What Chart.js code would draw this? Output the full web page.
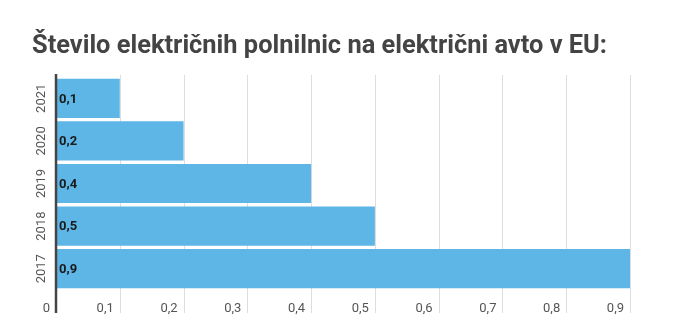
<!DOCTYPE html>
<html>
<head>
<meta charset="utf-8">
<script src="https://cdn.jsdelivr.net/npm/chart.js@4.4.1/dist/chart.umd.min.js"></script>
<style>
    html, body { margin: 0; padding: 0; background: #fff; }
    #wrap { width: 700px; height: 329px; position: relative; }
</style>
</head>
<body>
<div id="wrap"><canvas id="barChart"></canvas></div>
<script>
// Chargers per electric car in the EU, by year
const chartTitle = 'Število električnih polnilnic na električni avto v EU:';
const years = ['2021', '2020', '2019', '2018', '2017'];
const chargersPerCar = [0.1, 0.2, 0.4, 0.5, 0.9];
const axisMax = 0.9;
const axisStep = 0.1;

const fmt = v => String(Math.round(v * 10) / 10).replace('.', ',');

// Heading, squeezed a little so it keeps a condensed width
const titlePlugin = {
    id: 'titleText',
    afterDraw(chart) {
        const ctx = chart.ctx;
        ctx.save();
        ctx.font = 'bold 26px Roboto';
        ctx.fillStyle = '#444444';
        ctx.textBaseline = 'alphabetic';
        ctx.textAlign = 'left';
        ctx.fillText(chartTitle, 32, 53, 575);
        ctx.restore();
    }
};

// Grid ticks hanging below the plot, and the dark zero line
const axisLinePlugin = {
    id: 'axisLine',
    beforeDatasetsDraw(chart) {
        const ctx = chart.ctx;
        const xs = chart.scales.x;
        const area = chart.chartArea;
        ctx.save();
        ctx.strokeStyle = '#dddddd';
        ctx.lineWidth = 1;
        xs.ticks.forEach(t => {
            const x = Math.round(xs.getPixelForValue(t.value)) + 0.5;
            ctx.beginPath();
            ctx.moveTo(x, area.top - 2);
            ctx.lineTo(x, area.bottom + 23);
            ctx.stroke();
        });
        ctx.restore();
    },
    afterDatasetsDraw(chart) {
        const ctx = chart.ctx;
        const x = chart.scales.x.getPixelForValue(0);
        const area = chart.chartArea;
        ctx.save();
        ctx.strokeStyle = '#444444';
        ctx.lineWidth = 2.5;
        ctx.beginPath();
        ctx.moveTo(x, area.top - 3);
        ctx.lineTo(x, area.bottom + 23);
        ctx.stroke();
        ctx.restore();
    }
};

// Value labels inside each bar, near its start
const valueLabelPlugin = {
    id: 'valueLabels',
    afterDatasetsDraw(chart) {
        const ctx = chart.ctx;
        const meta = chart.getDatasetMeta(0);
        const x0 = chart.scales.x.getPixelForValue(0);
        ctx.save();
        ctx.font = 'bold 13px Roboto';
        ctx.fillStyle = '#1a1a1a';
        ctx.textAlign = 'left';
        ctx.textBaseline = 'middle';
        meta.data.forEach((bar, i) => {
            ctx.fillText(fmt(chargersPerCar[i]), x0 + 3, bar.y + 1);
        });
        ctx.restore();
    }
};

function createBarChart() {
    const ctx = document.getElementById('barChart').getContext('2d');
    new Chart(ctx, {
        type: 'bar',
        data: {
            labels: years,
            datasets: [{
                data: chargersPerCar,
                backgroundColor: '#5db6e5',
                borderWidth: 0,
                barPercentage: 0.92,
                categoryPercentage: 1
            }]
        },
        options: {
            indexAxis: 'y',
            responsive: true,
            maintainAspectRatio: false,
            animation: false,
            layout: {
                padding: { top: 77, left: 32, right: 70, bottom: 1.4 }
            },
            plugins: {
                legend: { display: false },
                title: { display: false },
                tooltip: { enabled: false }
            },
            scales: {
                x: {
                    min: 0,
                    max: axisMax,
                    border: { display: false },
                    grid: { display: false, drawTicks: false },
                    ticks: {
                        stepSize: axisStep,
                        align: 'end',
                        labelOffset: -6,
                        padding: 11,
                        color: '#555555',
                        font: { family: 'Roboto', size: 13 },
                        callback: v => fmt(v)
                    }
                },
                y: {
                    border: { display: false },
                    grid: { display: false, drawTicks: false },
                    // fixed width so the upright year labels are not clipped
                    afterFit(scale) { scale.width = 24; },
                    ticks: {
                        minRotation: 90,
                        maxRotation: 90,
                        crossAlign: 'center',
                        padding: 0,
                        color: '#555555',
                        font: { family: 'Roboto', size: 13 }
                    }
                }
            }
        },
        plugins: [titlePlugin, axisLinePlugin, valueLabelPlugin]
    });
}

window.onload = function () {
    createBarChart();
};
</script>
</body>
</html>
